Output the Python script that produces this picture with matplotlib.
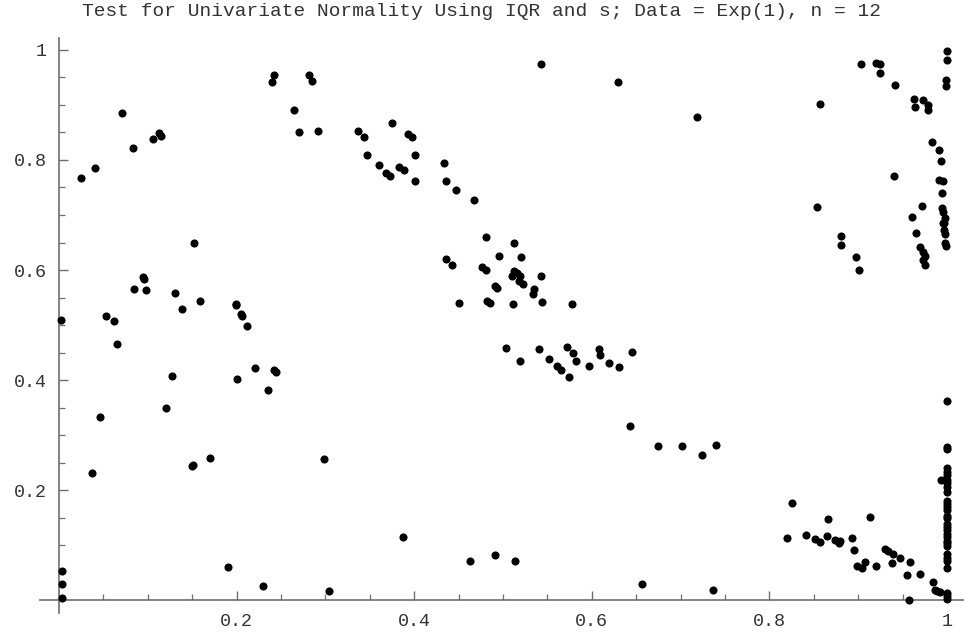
import matplotlib
matplotlib.use("Agg")
import matplotlib.pyplot as plt
from matplotlib.ticker import MultipleLocator, FixedLocator

# points (x, y), grouped roughly by region
upper_left_x = [0.025, 0.040, 0.071, 0.083, 0.106, 0.113, 0.115,
                0.240, 0.242, 0.2815, 0.2845, 0.265, 0.270, 0.292,
                0.337, 0.344, 0.375, 0.393, 0.397, 0.347, 0.401,
                0.360, 0.368, 0.373, 0.383, 0.388, 0.4005, 0.434,
                0.436, 0.447, 0.467, 0.543, 0.6295, 0.718]
upper_left_y = [0.767, 0.786, 0.886, 0.822, 0.838, 0.849, 0.843,
                0.942, 0.955, 0.955, 0.943, 0.891, 0.851, 0.853,
                0.852, 0.842, 0.868, 0.847, 0.842, 0.809, 0.809,
                0.790, 0.777, 0.771, 0.788, 0.782, 0.762, 0.795,
                0.762, 0.745, 0.727, 0.975, 0.941, 0.879]

upper_right_x = [0.903, 0.920, 0.9245, 0.9245, 0.941, 1.0, 1.0, 0.999, 0.999,
                 0.857, 0.963, 0.964, 0.973, 0.978, 0.979, 0.983, 0.991, 0.993,
                 0.991, 0.996, 0.994, 0.940, 0.854, 0.9715, 0.961, 0.994, 0.995,
                 0.998, 0.997, 0.996, 0.997, 0.998, 0.998, 0.999,
                 0.965, 0.970, 0.973, 0.975, 0.973, 0.9756,
                 0.8806, 0.881, 0.898, 0.9005, 1.0]
upper_right_y = [0.974, 0.976, 0.975, 0.958, 0.936, 0.998, 0.982, 0.945, 0.935,
                 0.902, 0.911, 0.897, 0.909, 0.900, 0.891, 0.832, 0.818, 0.798,
                 0.764, 0.761, 0.740, 0.771, 0.715, 0.716, 0.697, 0.712, 0.706,
                 0.694, 0.685, 0.686, 0.673, 0.665, 0.649, 0.644,
                 0.667, 0.641, 0.633, 0.626, 0.619, 0.610,
                 0.662, 0.645, 0.624, 0.600, 0.362]

left_x = [0.002, 0.053, 0.0616, 0.065, 0.0845, 0.0946, 0.0954, 0.0983, 0.131,
          0.138, 0.1517, 0.1588, 0.199, 0.1995, 0.205, 0.206, 0.212, 0.2005,
          0.2204, 0.2417, 0.244, 0.235, 0.127, 0.1205, 0.0465,
          0.0368, 0.1498, 0.151, 0.1697, 0.190, 0.230, 0.003, 0.003, 0.003,
          0.298, 0.3037, 0.387, 0.4628, 0.491]
left_y = [0.509, 0.516, 0.507, 0.465, 0.565, 0.588, 0.583, 0.564, 0.559,
          0.530, 0.6485, 0.5436, 0.539, 0.536, 0.520, 0.516, 0.499, 0.402,
          0.421, 0.419, 0.415, 0.382, 0.407, 0.350, 0.332,
          0.231, 0.2436, 0.246, 0.2588, 0.060, 0.026, 0.053, 0.029, 0.003,
          0.257, 0.017, 0.1145, 0.0715, 0.081]

middle_x = [0.4809, 0.4355, 0.442, 0.496, 0.4764, 0.4805, 0.491, 0.493, 0.450,
            0.482, 0.485, 0.503, 0.512, 0.520, 0.5128, 0.5154, 0.5098, 0.519,
            0.5184, 0.522, 0.5428, 0.535, 0.534, 0.5116, 0.544, 0.578,
            0.519, 0.540, 0.552, 0.561, 0.565, 0.572, 0.579, 0.582, 0.5747,
            0.5965, 0.6077, 0.609, 0.619, 0.631, 0.6456,
            0.514, 0.6434, 0.674, 0.701, 0.7237, 0.7395, 0.656, 0.737]
middle_y = [0.660, 0.6194, 0.6097, 0.6255, 0.606, 0.600, 0.571, 0.567, 0.5406,
            0.544, 0.540, 0.458, 0.6497, 0.624, 0.599, 0.595, 0.5897, 0.589,
            0.580, 0.5745, 0.590, 0.565, 0.556, 0.539, 0.541, 0.5376,
            0.4345, 0.4564, 0.438, 0.426, 0.419, 0.4606, 0.450, 0.434, 0.406,
            0.4255, 0.457, 0.445, 0.431, 0.424, 0.4515,
            0.071, 0.3164, 0.2806, 0.280, 0.263, 0.2825, 0.030, 0.0176]

lower_right_x = [0.8194, 0.8255, 0.8416, 0.851, 0.857, 0.865, 0.866, 0.874,
                 0.879, 0.878, 0.8934, 0.895, 0.9133, 0.8986, 0.904, 0.908,
                 0.9197, 0.9305, 0.934, 0.939, 0.938, 0.9467, 0.958, 0.9545,
                 0.969, 0.957, 0.9846, 0.986, 0.989, 0.992, 1.0, 1.0, 1.0, 0.9936]
lower_right_y = [0.1133, 0.1764, 0.118, 0.1115, 0.106, 0.1158, 0.148, 0.109,
                 0.108, 0.104, 0.112, 0.091, 0.1515, 0.0624, 0.0588, 0.0697,
                 0.0624, 0.0927, 0.089, 0.0836, 0.0667, 0.0758, 0.0697, 0.046,
                 0.0467, 0.0, 0.0333, 0.018, 0.016, 0.015, 0.012, 0.007, 0.002, 0.219]

# the column of points sitting on x = 1
column_y = [0.2776, 0.274, 0.2394, 0.233, 0.227, 0.218, 0.212, 0.205, 0.197,
            0.1805, 0.174, 0.1685, 0.1636, 0.1527, 0.1485, 0.138, 0.1333, 0.127,
            0.12, 0.115, 0.108, 0.103, 0.098, 0.0836, 0.0758, 0.0715, 0.0576]
column_x = [1.0] * len(column_y)

tick_vals = [0.2, 0.4, 0.6, 0.8, 1.0]
tick_labels = ["0.2", "0.4", "0.6", "0.8", "1"]

title = "Test for Univariate Normality Using IQR and s; Data = Exp(1), n = 12"

plt.rcParams['font.family'] = ['Liberation Mono', 'DejaVu Sans Mono']

fig = plt.figure(figsize=(9.64, 6.35), dpi=100)
ax = fig.add_axes([40 / 964, 22 / 635, 924 / 964, 575 / 635])

xs = upper_left_x + upper_right_x + left_x + middle_x + lower_right_x + column_x
ys = upper_left_y + upper_right_y + left_y + middle_y + lower_right_y + column_y
ax.scatter(xs, ys, s=34, color="black", linewidths=0, zorder=3, clip_on=False)

ax.set_xlim(-0.0214, 1.0191)
ax.set_ylim(-0.0236, 1.0218)

axis_col = "#6e6e6e"
for side in ["top", "right"]:
    ax.spines[side].set_visible(False)
ax.spines["left"].set_position(("data", 0))
ax.spines["bottom"].set_position(("data", 0))
ax.spines["left"].set_color(axis_col)
ax.spines["bottom"].set_color(axis_col)
ax.spines["left"].set_linewidth(1.2)
ax.spines["bottom"].set_linewidth(1.2)

ax.xaxis.set_major_locator(FixedLocator(tick_vals))
ax.yaxis.set_major_locator(FixedLocator(tick_vals))
ax.set_xticklabels(tick_labels)
ax.set_yticklabels(tick_labels)
ax.xaxis.set_minor_locator(MultipleLocator(0.05))
ax.yaxis.set_minor_locator(MultipleLocator(0.05))
ax.tick_params(which="major", direction="in", length=6.5, width=1, color=axis_col,
               labelsize=13.2, labelcolor="#333333", pad=9)
ax.tick_params(which="minor", direction="in", length=4, width=0.9, color=axis_col)

ax.set_facecolor("white")
fig.text(0.5, 1 - 11 / 635, title, ha="center", va="center", fontsize=14, color="#333333")

fig.savefig("out.png", dpi=100)
